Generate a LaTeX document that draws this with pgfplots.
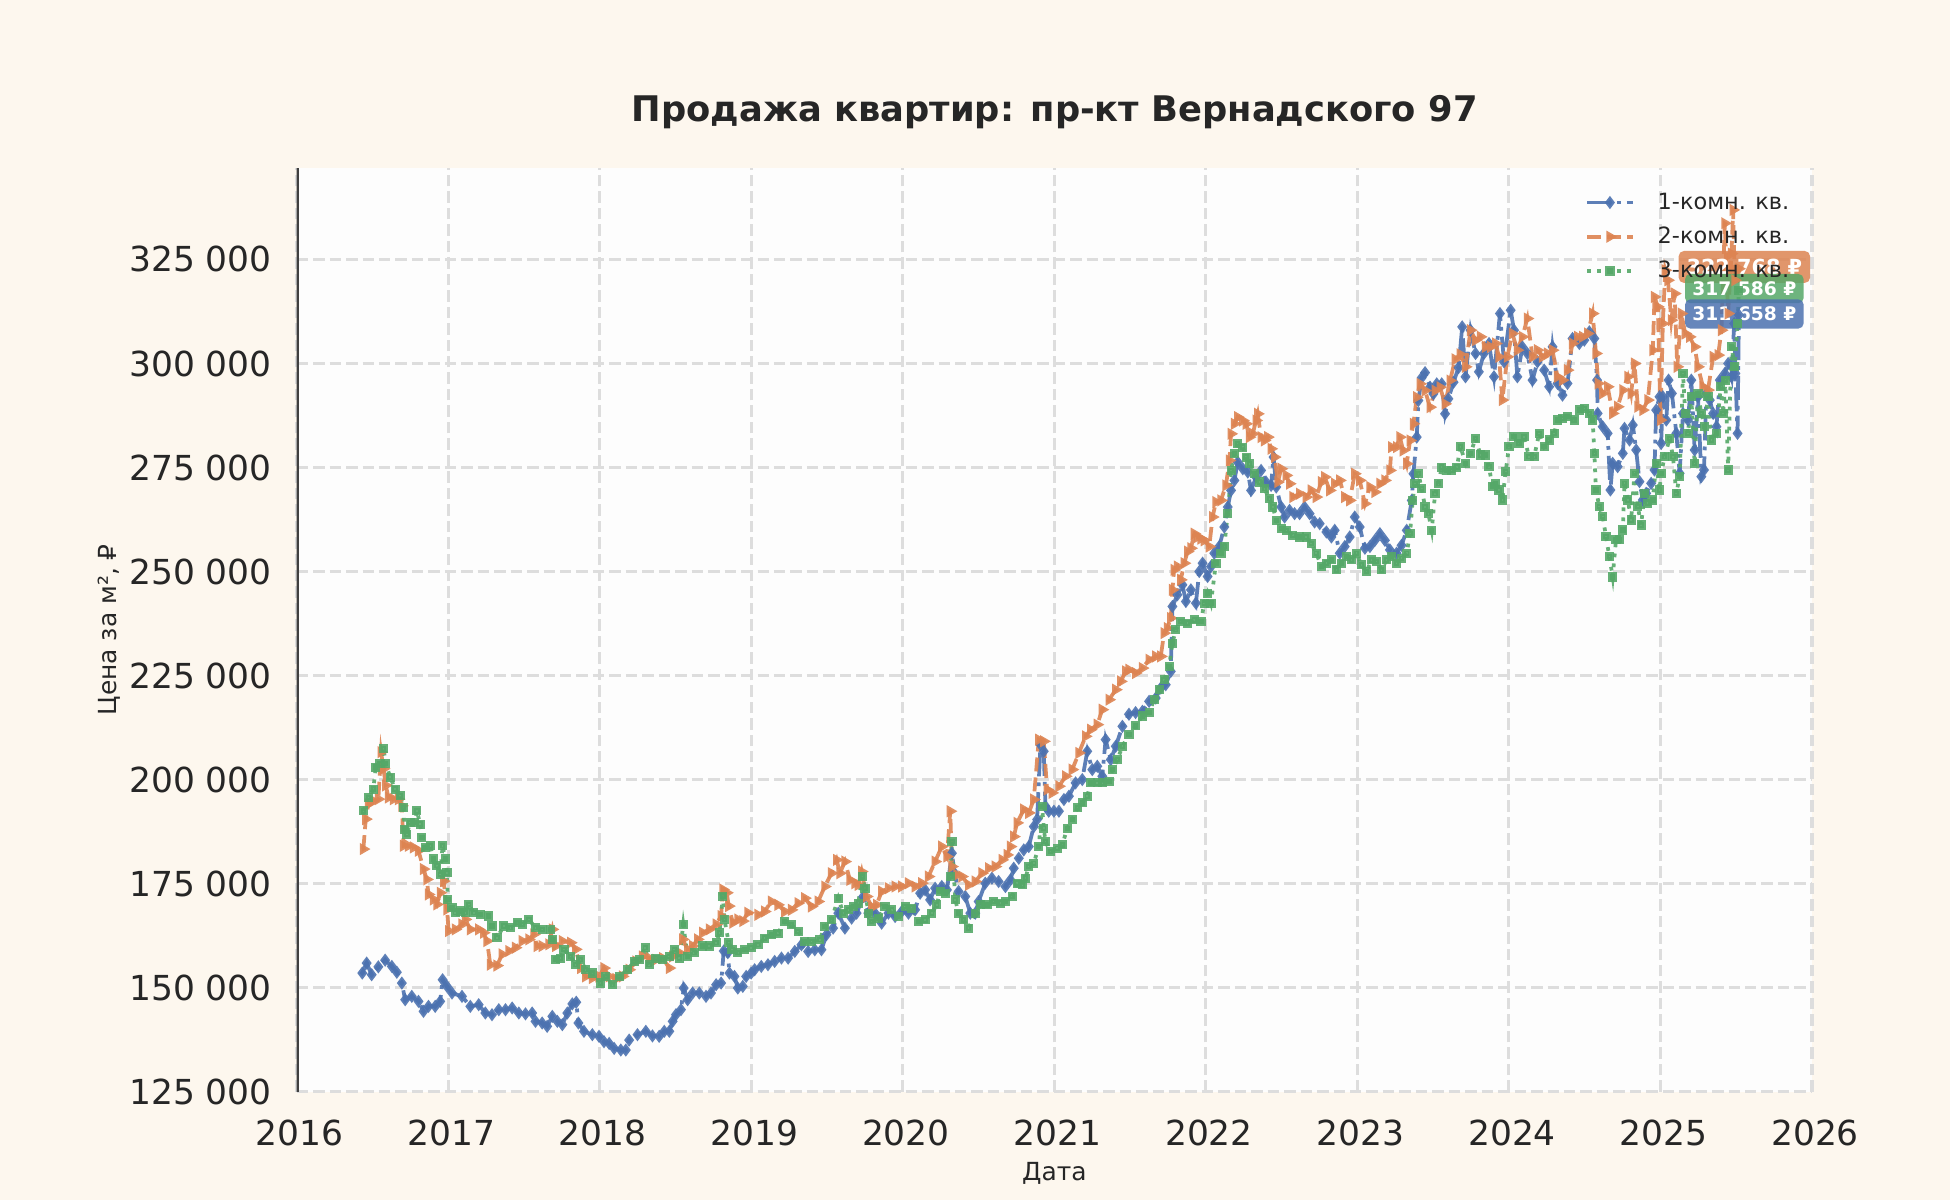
\documentclass[border=0pt]{standalone}
\usepackage{pgfplots}
\pgfplotsset{compat=1.18}
\usepackage{fontspec}
\setmainfont{DejaVu Sans}

\definecolor{bgcream}{RGB}{253,247,238}
\definecolor{axbg}{RGB}{253,253,253}
\definecolor{sblue}{RGB}{76,114,176}
\definecolor{sorange}{RGB}{221,132,82}
\definecolor{sgreen}{RGB}{85,168,104}
\definecolor{gridc}{RGB}{221,221,221}
\definecolor{spinec}{RGB}{64,64,64}
\definecolor{textc}{RGB}{38,38,38}

\begin{document}
\begin{tikzpicture}
\fill[bgcream] (0,0) rectangle (936bp,576bp);
\begin{axis}[
  at={(142.4bp,52bp)}, anchor=south west,
  width=727.4bp, height=443.4bp, scale only axis,
  xmin=2016, xmax=2026, ymin=125000, ymax=347000,
  axis background/.style={fill=axbg},
  axis line style={draw=none},
  xtick={2016,2017,...,2026},
  ytick={125000,150000,...,325000},
  major tick length=0pt,
  grid=major,
  major grid style={gridc, line width=1.5bp, dash pattern=on 5.5bp off 2.4bp},
  /pgf/number format/assume math mode=true,
  scaled x ticks=false,
  scaled y ticks=false,
  ticklabel style={text=textc, font=\fontsize{16.6}{19}\selectfont, inner sep=0pt},
  xticklabel style={/pgf/number format/fixed, /pgf/number format/precision=0,
    /pgf/number format/1000 sep={}, anchor=north, xshift=1.5bp, yshift=-13.6bp},
  yticklabel style={/pgf/number format/fixed, /pgf/number format/precision=0,
    /pgf/number format/1000 sep={\ }, anchor=east, xshift=-11.8bp},
  xlabel={Дата},
  ylabel={Цена за м², ₽},
  label style={text=textc, font=\fontsize{12}{14}\selectfont},
  xlabel style={at={(axis description cs:0.5,-0.088)}, anchor=center},
  ylabel style={at={(axis description cs:-0.1235,0.5)}, anchor=center},
  legend style={at={(rel axis cs:0.988,0.978)}, anchor=north east, draw=none, fill=none,
    inner sep=0pt, row sep=3bp, font=\fontsize{10.8}{13}\selectfont, text=textc,
    nodes={inner sep=2bp}, /tikz/every odd column/.append style={column sep=9bp}},
  legend cell align=left,
  legend image code/.code={\draw[mark repeat=2,mark phase=2] plot coordinates {(0bp,0bp) (11bp,0bp) (22bp,0bp)};},
]

% 1-комн.
\addplot[sblue, opacity=0.9, line width=1.8bp, dash pattern=on 11.5bp off 2.9bp on 1.8bp off 2.9bp,
  mark=diamond*, mark size=1.7bp, mark options={solid, fill=sblue}] coordinates {
(2016.433,153500) (2016.462,155900) (2016.495,153100) (2016.539,155000) (2016.584,156600)
(2016.628,155100) (2016.661,153700) (2016.694,151100) (2016.716,147100) (2016.760,147900)
(2016.804,146700) (2016.837,144300) (2016.870,145500) (2016.914,145500) (2016.947,146700)
(2016.963,151900) (2016.992,150300) (2017.025,148700) (2017.091,147900) (2017.146,145500)
(2017.201,145900) (2017.245,143900) (2017.289,143500) (2017.334,144700) (2017.378,144700)
(2017.422,145100) (2017.466,143900) (2017.510,143700) (2017.554,143900) (2017.576,141900)
(2017.620,141500) (2017.653,140700) (2017.687,143100) (2017.720,141900) (2017.753,141100)
(2017.786,143900) (2017.819,146100) (2017.845,146500) (2017.859,141500) (2017.896,139500)
(2017.951,138700) (2017.995,138300) (2018.028,137000) (2018.062,136600) (2018.095,135400)
(2018.139,135000) (2018.172,135000) (2018.194,137400) (2018.249,138700) (2018.304,139500)
(2018.348,138400) (2018.392,138300) (2018.426,139500) (2018.459,139500) (2018.481,141900)
(2018.503,143500) (2018.536,144700) (2018.554,149900) (2018.580,147100) (2018.613,148700)
(2018.657,148700) (2018.701,147900) (2018.734,148700) (2018.768,150700) (2018.801,151100)
(2018.818,158800) (2018.845,158400) (2018.856,153500) (2018.889,152700) (2018.911,149900)
(2018.944,150300) (2018.966,152700) (2018.999,153500)
(2019.022,154300) (2019.066,155100) (2019.110,155500) (2019.154,156300) (2019.199,157100)
(2019.243,157100) (2019.287,158700) (2019.331,160300) (2019.375,158700) (2019.419,159100)
(2019.463,159100) (2019.496,162700) (2019.540,164300) (2019.574,167900) (2019.618,164300)
(2019.662,166700) (2019.695,167900) (2019.739,171900) (2019.772,167900) (2019.816,167900)
(2019.860,165500) (2019.905,167900) (2019.949,167100) (2019.993,168300) (2020.037,167900)
(2020.081,168700) (2020.114,172700) (2020.147,173500) (2020.180,171100) (2020.213,173900)
(2020.257,174300) (2020.291,173500) (2020.324,182300) (2020.341,177500) (2020.368,173100)
(2020.412,171900) (2020.445,167900) (2020.478,167900) (2020.500,170700) (2020.544,175100)
(2020.588,176300) (2020.632,175500) (2020.677,174300) (2020.710,175900) (2020.732,178700)
(2020.765,181100) (2020.798,183100) (2020.831,183900) (2020.864,188700) (2020.886,190400)
(2020.908,208400) (2020.930,206800) (2020.941,193600) (2020.963,192400) (2020.997,192400)
(2021.030,192400) (2021.063,195200) (2021.096,196000) (2021.140,199200) (2021.184,200000)
(2021.217,206800) (2021.250,202400) (2021.283,203200) (2021.316,200800) (2021.338,209600)
(2021.372,204800) (2021.405,208000) (2021.449,212800)
(2021.492,215700) (2021.536,216100) (2021.581,216400) (2021.625,218800) (2021.669,219600)
(2021.702,222000) (2021.735,222800) (2021.768,226000) (2021.779,241600) (2021.812,244400)
(2021.845,246800) (2021.868,242800) (2021.901,245600) (2021.934,242400) (2021.956,250000)
(2021.978,252000) (2022.011,248800) (2022.033,251200) (2022.055,254400) (2022.088,256000)
(2022.121,260700) (2022.144,265500) (2022.166,269500) (2022.188,271900) (2022.210,276300)
(2022.243,274700) (2022.276,273900) (2022.298,269500) (2022.331,272700) (2022.364,274300)
(2022.397,271500) (2022.430,270700) (2022.446,277500) (2022.464,270300) (2022.497,265500)
(2022.519,263100) (2022.552,264700) (2022.585,263900) (2022.618,263900) (2022.651,265500)
(2022.684,263900) (2022.717,261900) (2022.751,261500) (2022.795,259500) (2022.828,258300)
(2022.850,259900) (2022.883,254400) (2022.916,256000) (2022.949,258300) (2022.982,263100)
(2023.015,260700) (2023.049,255600) (2023.082,256000) (2023.115,257500) (2023.148,259100)
(2023.181,257500) (2023.214,255200) (2023.258,254400) (2023.291,256300) (2023.325,259900)
(2023.358,267100) (2023.369,273500) (2023.391,282300) (2023.402,291100) (2023.424,296600)
(2023.446,297800) (2023.479,294300) (2023.501,292700) (2023.523,295100) (2023.556,295100)
(2023.578,287900) (2023.600,291500) (2023.634,295500) (2023.667,299000)
(2023.691,308800) (2023.713,296800) (2023.746,308000) (2023.779,302400) (2023.801,298000)
(2023.834,302400) (2023.868,304800) (2023.901,296800) (2023.940,312000) (2023.967,300400)
(2024.011,312800) (2024.033,308000) (2024.055,296800) (2024.088,304000) (2024.121,302400)
(2024.155,296000) (2024.188,300400) (2024.232,298400) (2024.265,294400) (2024.287,304000)
(2024.320,295200) (2024.353,292400) (2024.386,295200) (2024.419,306000) (2024.464,304800)
(2024.497,305600) (2024.530,307600) (2024.563,306000) (2024.581,296000) (2024.585,288000)
(2024.618,284800) (2024.651,283200) (2024.669,269600) (2024.684,276000) (2024.717,275200)
(2024.751,278400) (2024.762,284400) (2024.795,281600) (2024.817,285200) (2024.839,279200)
(2024.861,271600) (2024.883,267200) (2024.905,268800) (2024.938,271200) (2024.960,274400)
(2024.971,288800) (2024.993,292000) (2025.004,280800) (2025.015,292000) (2025.038,286400)
(2025.053,296000) (2025.075,292800) (2025.104,283200) (2025.126,273600) (2025.148,288000)
(2025.181,286400) (2025.203,296000) (2025.225,279200) (2025.247,292000) (2025.269,272800)
(2025.287,274400) (2025.302,292800) (2025.325,291200) (2025.347,288000) (2025.369,284800)
(2025.391,296000) (2025.424,297600) (2025.446,300000) (2025.468,296800) (2025.486,309600)
(2025.494,297600) (2025.508,283200) (2025.517,311658)
};
\addlegendentry{1-комн. кв.}

% 2-комн.
\addplot[sorange, opacity=0.9, line width=1.8bp, dash pattern=on 6.7bp off 2.9bp,
  mark=triangle*, mark size=1.6bp, mark options={solid, fill=sorange, rotate=-90}] coordinates {
(2016.440,183300) (2016.456,190500) (2016.473,194100) (2016.506,194900) (2016.539,195300)
(2016.557,206600) (2016.573,202600) (2016.588,198600) (2016.606,195700) (2016.639,195300)
(2016.672,195300) (2016.694,193700) (2016.705,184100) (2016.738,184100) (2016.771,183700)
(2016.804,182900) (2016.837,178500) (2016.859,176000) (2016.870,172400) (2016.903,171200)
(2016.925,170000) (2016.948,172800) (2016.970,175600) (2016.992,168800) (2017.003,163600)
(2017.047,164000) (2017.091,165200) (2017.113,166400) (2017.146,164000) (2017.201,164000)
(2017.234,163200) (2017.256,161200) (2017.278,155500) (2017.322,155300) (2017.356,158000)
(2017.400,158800) (2017.444,159600) (2017.488,161200) (2017.532,161600) (2017.565,162800)
(2017.587,160000) (2017.620,160000) (2017.664,160400) (2017.687,164000) (2017.709,160000)
(2017.753,161200) (2017.808,160800) (2017.841,159200) (2017.874,154700) (2017.907,152700)
(2017.951,152300) (2017.995,152700) (2018.028,154700) (2018.062,152700) (2018.106,152100)
(2018.150,152700) (2018.194,154300) (2018.238,156300) (2018.282,157500) (2018.326,157100)
(2018.370,156700) (2018.415,157100) (2018.459,154700) (2018.481,157500) (2018.525,158400)
(2018.547,161600) (2018.580,159200) (2018.613,160000) (2018.646,161600) (2018.679,163200)
(2018.723,164000) (2018.768,165200) (2018.801,167200) (2018.812,173600) (2018.838,172800)
(2018.851,169600) (2018.878,165600) (2018.911,166400) (2018.944,166000) (2018.977,168000)
(2019.044,167500) (2019.088,168300) (2019.132,170700) (2019.176,169900) (2019.221,168300)
(2019.265,168700) (2019.309,170300) (2019.353,171500) (2019.397,169500) (2019.441,170700)
(2019.485,174300) (2019.529,177500) (2019.563,180700) (2019.585,177500) (2019.618,180300)
(2019.651,175900) (2019.684,175100) (2019.706,174700) (2019.728,177900) (2019.761,171900)
(2019.794,169500) (2019.827,169900) (2019.860,173100) (2019.905,173900) (2019.949,174300)
(2019.993,174300) (2020.037,175100) (2020.081,174300) (2020.125,175100) (2020.169,176700)
(2020.213,180300) (2020.257,183900) (2020.291,181500) (2020.313,192400) (2020.324,179100)
(2020.357,177100) (2020.390,176700) (2020.434,174700) (2020.478,175500) (2020.522,177500)
(2020.566,178700) (2020.610,179100) (2020.655,180700) (2020.688,181900) (2020.710,183900)
(2020.732,186300) (2020.754,189600) (2020.798,192800) (2020.831,192000) (2020.864,195200)
(2020.897,209600) (2020.930,209200) (2020.952,197600) (2020.985,196800) (2021.030,198400)
(2021.074,200800) (2021.118,202400) (2021.162,206400) (2021.206,210400) (2021.239,212000)
(2021.283,213200) (2021.316,216800) (2021.361,219200) (2021.405,221600) (2021.438,223600)
(2021.471,226000)
(2021.492,226400) (2021.536,225600) (2021.581,226800) (2021.625,228800) (2021.669,229600)
(2021.702,229600) (2021.724,235200) (2021.746,236400) (2021.768,238800) (2021.779,245600)
(2021.790,250400) (2021.812,251200) (2021.834,248000) (2021.857,252000) (2021.879,254800)
(2021.901,255600) (2021.923,259100) (2021.945,258300) (2021.967,257900) (2021.989,257500)
(2022.022,256000) (2022.044,263100) (2022.066,266700) (2022.099,267100) (2022.132,270700)
(2022.155,276700) (2022.166,283100) (2022.188,285500) (2022.210,287100) (2022.243,286300)
(2022.265,285500) (2022.287,282300) (2022.309,283100) (2022.331,286300) (2022.342,287900)
(2022.364,282300) (2022.386,281500) (2022.408,282300) (2022.430,279500) (2022.453,277500)
(2022.475,271500) (2022.497,274700) (2022.530,273100) (2022.552,271100) (2022.574,267900)
(2022.618,268700) (2022.662,267900) (2022.695,269500) (2022.728,267900) (2022.762,271500)
(2022.784,272700) (2022.817,269500) (2022.850,271100) (2022.883,271900) (2022.916,267900)
(2022.949,267100) (2022.982,273500) (2023.015,271900) (2023.049,266300) (2023.082,270300)
(2023.115,269100) (2023.148,271100) (2023.181,271900) (2023.214,274300) (2023.225,279900)
(2023.258,279900) (2023.280,282300) (2023.302,279100) (2023.325,275900) (2023.347,281500)
(2023.369,285500) (2023.391,291900) (2023.413,295100) (2023.446,293500) (2023.479,289500)
(2023.512,293500) (2023.545,294300) (2023.578,290300) (2023.611,295900) (2023.645,301000)
(2023.678,302200)
(2023.713,299200) (2023.746,308000) (2023.779,305600) (2023.812,306400) (2023.845,304000)
(2023.879,304000) (2023.912,304800) (2023.934,301600) (2023.956,291200) (2023.989,301600)
(2024.022,307200) (2024.055,303200) (2024.088,306400) (2024.121,310800) (2024.155,301600)
(2024.188,303200) (2024.221,301600) (2024.254,302400) (2024.287,303200) (2024.320,296800)
(2024.353,296000) (2024.386,298400) (2024.419,304800) (2024.453,306400) (2024.486,306400)
(2024.519,307200) (2024.552,312000) (2024.574,302400) (2024.589,295200) (2024.618,292800)
(2024.651,294400) (2024.684,288000) (2024.717,289600) (2024.751,293600) (2024.784,296800)
(2024.806,292800) (2024.828,300000) (2024.850,289600) (2024.883,288800) (2024.916,291200)
(2024.949,303200) (2024.960,316000) (2024.982,313600) (2025.000,286400) (2025.015,309600)
(2025.031,322400) (2025.049,320000) (2025.071,310400) (2025.093,316800) (2025.110,299200)
(2025.137,312000) (2025.163,307200) (2025.192,306400) (2025.225,304000) (2025.247,299200)
(2025.280,294400) (2025.313,293600) (2025.347,301600) (2025.380,302000) (2025.402,308000)
(2025.424,333700) (2025.446,312000) (2025.468,326400) (2025.479,336900) (2025.490,320000)
(2025.517,322768)
};
\addlegendentry{2-комн. кв.}

% 3-комн.
\addplot[sgreen, opacity=0.9, line width=1.8bp, dash pattern=on 1.8bp off 3bp,
  mark=square*, mark size=1.3bp, mark options={solid, fill=sgreen}] coordinates {
(2016.440,192500) (2016.473,195700) (2016.506,197700) (2016.522,203000) (2016.550,203800)
(2016.573,207400) (2016.588,203800) (2016.617,200600) (2016.650,197700) (2016.683,196100)
(2016.705,193300) (2016.712,188100) (2016.727,186900) (2016.749,189700) (2016.778,189700)
(2016.793,192500) (2016.815,189300) (2016.826,186100) (2016.848,183700) (2016.881,184100)
(2016.903,180900) (2016.925,179300) (2016.948,177200) (2016.963,184100) (2016.981,180900)
(2016.992,177600) (2016.998,171200) (2017.025,169200) (2017.047,168000) (2017.080,168400)
(2017.113,168000) (2017.135,170000) (2017.168,168000) (2017.212,167600) (2017.267,167200)
(2017.289,164800) (2017.322,162000) (2017.367,164800) (2017.411,164400) (2017.455,165600)
(2017.488,165200) (2017.532,166400) (2017.576,164400) (2017.620,164000) (2017.676,164000)
(2017.687,161600) (2017.709,156700) (2017.742,157100) (2017.764,159200) (2017.808,157500)
(2017.841,155500) (2017.874,156700) (2017.907,154300) (2017.951,153500) (2018.006,151100)
(2018.040,152700) (2018.084,150700) (2018.128,152700) (2018.183,154300) (2018.227,156300)
(2018.260,156700) (2018.300,159600) (2018.326,155500) (2018.370,157100) (2018.415,156700)
(2018.459,157500) (2018.492,159200) (2018.525,157100) (2018.551,165200) (2018.580,157500)
(2018.624,158400) (2018.679,160000) (2018.723,160000) (2018.768,160800) (2018.790,163200)
(2018.812,172000) (2018.823,166400) (2018.851,160800) (2018.873,159200) (2018.911,158400)
(2018.955,159200) (2018.999,159600)
(2019.044,160300) (2019.088,161900) (2019.132,162700) (2019.176,163100) (2019.221,165900)
(2019.265,165100) (2019.309,163500) (2019.353,161100) (2019.397,161100) (2019.452,161500)
(2019.485,164700) (2019.529,166300) (2019.574,171500) (2019.607,167900) (2019.640,168700)
(2019.673,169500) (2019.706,170300) (2019.732,176700) (2019.750,173900) (2019.772,167900)
(2019.794,165900) (2019.838,166700) (2019.882,169500) (2019.927,168700) (2019.971,167100)
(2020.015,169500) (2020.059,169100) (2020.103,165900) (2020.147,166300) (2020.191,167900)
(2020.224,169900) (2020.246,173100) (2020.280,172700) (2020.313,176700) (2020.324,185100)
(2020.346,171100) (2020.368,167900) (2020.401,166300) (2020.434,164300) (2020.478,167900)
(2020.511,169900) (2020.555,169900) (2020.599,170700) (2020.644,170300) (2020.677,170700)
(2020.721,171900) (2020.754,175100) (2020.787,174700) (2020.809,176300) (2020.831,179100)
(2020.864,179900) (2020.897,183900) (2020.919,193600) (2020.930,188300) (2020.941,185100)
(2020.974,182700) (2021.019,183500) (2021.052,184300) (2021.085,188300) (2021.118,190400)
(2021.151,193200) (2021.184,194400) (2021.217,196000) (2021.239,199200) (2021.283,199200)
(2021.316,199200) (2021.361,199600) (2021.383,202400) (2021.416,204800) (2021.449,208000)
(2021.492,210900) (2021.536,212900) (2021.581,215300) (2021.625,216100) (2021.658,219200)
(2021.691,221600) (2021.724,224000) (2021.757,227200) (2021.779,232800) (2021.801,236000)
(2021.834,238000) (2021.879,237600) (2021.923,238400) (2021.967,238000) (2021.989,242400)
(2022.011,244800) (2022.033,242400) (2022.066,252000) (2022.099,254400) (2022.121,256000)
(2022.144,263900) (2022.166,274300) (2022.188,278300) (2022.210,280700) (2022.243,279900)
(2022.265,277500) (2022.287,275900) (2022.320,273500) (2022.353,271500) (2022.386,269900)
(2022.419,267500) (2022.442,265500) (2022.464,262300) (2022.497,260300) (2022.530,259900)
(2022.574,258700) (2022.618,258300) (2022.662,258300) (2022.695,256700) (2022.728,254400)
(2022.762,251200) (2022.795,252000) (2022.828,252800) (2022.861,250400) (2022.894,252000)
(2022.927,253600) (2022.960,252800) (2022.993,254400) (2023.026,251600) (2023.060,250000)
(2023.093,252800) (2023.126,252400) (2023.159,250400) (2023.192,252800) (2023.225,253600)
(2023.258,252000) (2023.291,253200) (2023.325,254400) (2023.347,259100) (2023.364,267100)
(2023.380,271100) (2023.402,273500) (2023.424,269900) (2023.446,265500) (2023.468,263900)
(2023.490,259900) (2023.512,268700) (2023.534,271100) (2023.556,275100) (2023.589,274300)
(2023.623,274300) (2023.656,275100)
(2023.680,280000) (2023.713,276000) (2023.746,278400) (2023.779,282000) (2023.812,278000)
(2023.845,278000) (2023.868,275200) (2023.890,270400) (2023.912,271200) (2023.934,269600)
(2023.956,267200) (2023.978,274000) (2024.000,280000) (2024.033,282400) (2024.066,280800)
(2024.099,282400) (2024.132,277600) (2024.166,277600) (2024.199,283200) (2024.232,280000)
(2024.265,281600) (2024.298,283200) (2024.320,286400) (2024.353,286800) (2024.386,287200)
(2024.430,286400) (2024.464,288800) (2024.497,289200) (2024.530,288000) (2024.552,286400)
(2024.563,278400) (2024.574,269600) (2024.596,265600) (2024.618,263200) (2024.640,258400)
(2024.662,253600) (2024.684,248700) (2024.706,257600) (2024.728,257600) (2024.751,260000)
(2024.762,271200) (2024.784,267200) (2024.806,262400) (2024.828,273600) (2024.850,265600)
(2024.872,261200) (2024.894,268800) (2024.916,266400) (2024.949,267200) (2024.971,276000)
(2024.993,269600) (2025.004,273600) (2025.027,277600) (2025.060,282000) (2025.082,277600)
(2025.104,268800) (2025.126,272800) (2025.148,297600) (2025.163,288000) (2025.181,283200)
(2025.203,292000) (2025.225,276000) (2025.247,292800) (2025.269,288000) (2025.291,284800)
(2025.313,292000) (2025.336,281600) (2025.369,283200) (2025.397,294400) (2025.413,288000)
(2025.428,296000) (2025.446,274400) (2025.468,304000) (2025.490,299200) (2025.508,309600)
(2025.517,317586)
};
\addlegendentry{3-комн. кв.}

% last-value badges
\begin{scope}[every node/.style={text=white, fill opacity=0.85, text opacity=1,
    font=\bfseries\fontsize{9}{11}\selectfont, rounded corners=2.5bp,
    inner xsep=3.5bp, inner ysep=3.7bp, text height=6.6bp, text depth=0pt}]
\node[fill=sorange, font=\bfseries\fontsize{10}{12}\selectfont, inner xsep=3.8bp,
  inner ysep=4bp, text height=7.3bp] at (axis cs:2025.553,323200) {322 768 ₽};
\node[fill=sgreen] at (axis cs:2025.553,318000) {317 586 ₽};
\node[fill=sblue] at (axis cs:2025.553,311900) {311 658 ₽};
\end{scope}

\draw[spinec, line width=2.2bp] (rel axis cs:0,0) -- (rel axis cs:0,1);
\end{axis}
\node[anchor=base, text=textc, font=\bfseries\fontsize{17}{20}\selectfont] at (506.2bp,517.8bp)
  {Продажа квартир: пр-кт Вернадского 97};
\pgfresetboundingbox
\path (0,0) rectangle (936bp,576bp);
\end{tikzpicture}
\end{document}
